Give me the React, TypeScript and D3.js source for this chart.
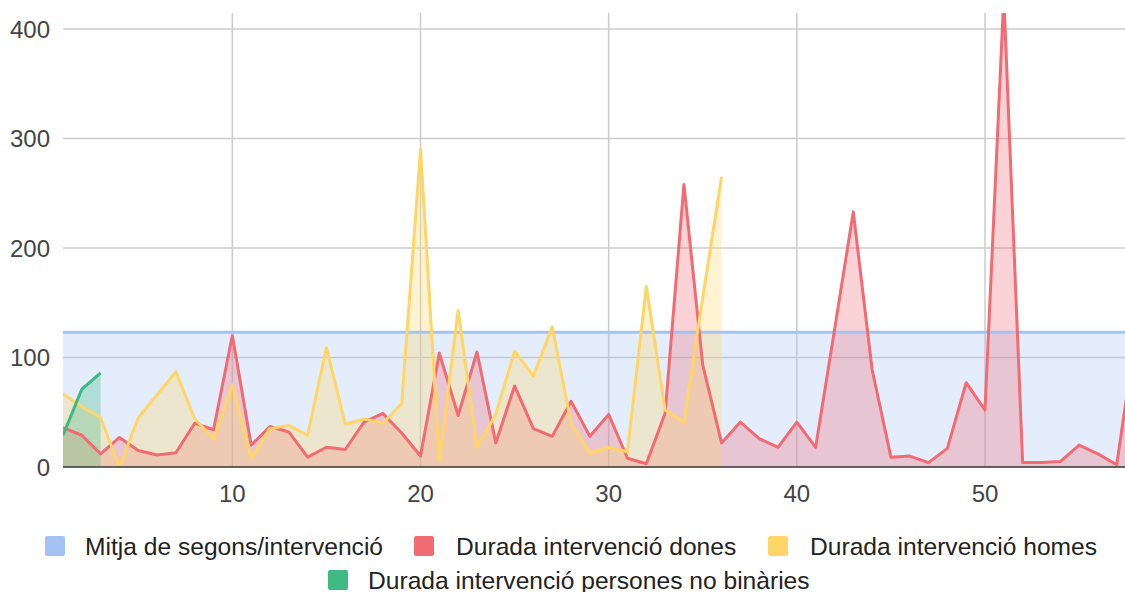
import React from "react";
import * as d3 from "d3";

const categories: number[] = Array.from({ length: 58 }, (_, i) => i + 1);

const avgValue = 123;

const dones: number[] = [
  36, 29, 12, 27, 15, 11, 13, 40, 34, 120,
  20, 37, 32, 9, 18, 16, 41, 49, 31, 10,
  104, 47, 105, 22, 74, 35, 28, 60, 28, 48,
  8, 3, 49, 258, 93, 22, 41, 26, 18, 41,
  18, 125, 233, 89, 9, 10, 4, 17, 77, 52,
  430, 4, 4, 5, 20, 12, 2, 120,
];

const homes: number[] = [
  67, 55, 45, 0, 45, 66, 87, 44, 26, 75,
  8, 35, 38, 29, 109, 39, 44, 40, 58, 290,
  6, 143, 18, 48, 106, 83, 128, 40, 13, 18,
  14, 165, 52, 41, 155, 265,
];

const noBinaries: number[] = [29, 71, 86];

const xTicks = [10, 20, 30, 40, 50];
const yTicks = [0, 100, 200, 300, 400];

const seriesNames = [
  "Mitja de segons/intervenció",
  "Durada intervenció dones",
  "Durada intervenció homes",
  "Durada intervenció persones no binàries",
];
const colors = ["#a4c2f4", "#f26b73", "#ffd666", "#3dba82"];

const W = 1125;
const H = 592;
const left = 63;
const right = 1125;
const top = 13;
const bottom = 467;

export default function App() {
  const x = d3.scaleLinear().domain([1, 50]).range([63, 985]);
  const y = d3.scaleLinear().domain([0, 400]).range([467, 29]);

  type P = [number, number];
  const avgSeries: P[] = categories.map((c) => [c, avgValue]);
  const series: P[][] = [
    avgSeries,
    dones.map((v, i) => [categories[i], v] as P),
    homes.map((v, i) => [categories[i], v] as P),
    noBinaries.map((v, i) => [categories[i], v] as P),
  ];

  const area = d3
    .area<P>()
    .x((d) => x(d[0]))
    .y0(y(0))
    .y1((d) => y(d[1]));
  const line = d3
    .line<P>()
    .x((d) => x(d[0]))
    .y((d) => y(d[1]));

  const font = "'Liberation Sans', Arial, sans-serif";

  const legendRow1 = [
    { i: 0, sx: 45, tx: 85, cy: 546 },
    { i: 1, sx: 414, tx: 456, cy: 546 },
    { i: 2, sx: 768, tx: 810, cy: 546 },
  ];
  const legendRow2 = [{ i: 3, sx: 328, tx: 368, cy: 580 }];

  return (
    <svg
      width={W}
      height={H}
      style={{ position: "absolute", left: 0, top: 0, display: "block" }}
      fontFamily={font}
    >
      <rect x={0} y={0} width={W} height={H} fill="#ffffff" />
      <defs>
        <clipPath id="plotClip">
          <rect x={left} y={top} width={right - left} height={bottom - top + 1} />
        </clipPath>
      </defs>
      {yTicks
        .filter((t) => t !== 0)
        .map((t) => (
          <line
            key={"gy" + t}
            x1={left}
            x2={right}
            y1={y(t)}
            y2={y(t)}
            stroke="#cccccc"
            strokeWidth={1.5}
          />
        ))}
      {xTicks.map((t) => (
        <line
          key={"gx" + t}
          x1={x(t)}
          x2={x(t)}
          y1={top}
          y2={bottom}
          stroke="#cccccc"
          strokeWidth={1.5}
        />
      ))}
      <g clipPath="url(#plotClip)">
        {series.map((s, i) => (
          <path key={"a" + i} d={area(s) || ""} fill={colors[i]} fillOpacity={0.3} />
        ))}
        {series.map((s, i) => (
          <path
            key={"l" + i}
            d={line(s) || ""}
            fill="none"
            stroke={colors[i]}
            strokeWidth={3}
            strokeLinejoin="round"
          />
        ))}
      </g>
      <line x1={left} x2={right} y1={y(0)} y2={y(0)} stroke="#333333" strokeWidth={1.5} />
      {yTicks.map((t) => (
        <text
          key={"yl" + t}
          x={50}
          y={y(t) + 8.5}
          textAnchor="end"
          fontSize={24}
          fill="#444444"
        >
          {t}
        </text>
      ))}
      {xTicks.map((t) => (
        <text
          key={"xl" + t}
          x={x(t)}
          y={502}
          textAnchor="middle"
          fontSize={24}
          fill="#444444"
        >
          {t}
        </text>
      ))}
      {[...legendRow1, ...legendRow2].map((l) => (
        <g key={"lg" + l.i}>
          <rect x={l.sx} y={l.cy - 10} width={20} height={20} rx={2} fill={colors[l.i]} />
          <text x={l.tx} y={l.cy + 8.5} fontSize={24.6} fill="#222222">
            {seriesNames[l.i]}
          </text>
        </g>
      ))}
    </svg>
  );
}
